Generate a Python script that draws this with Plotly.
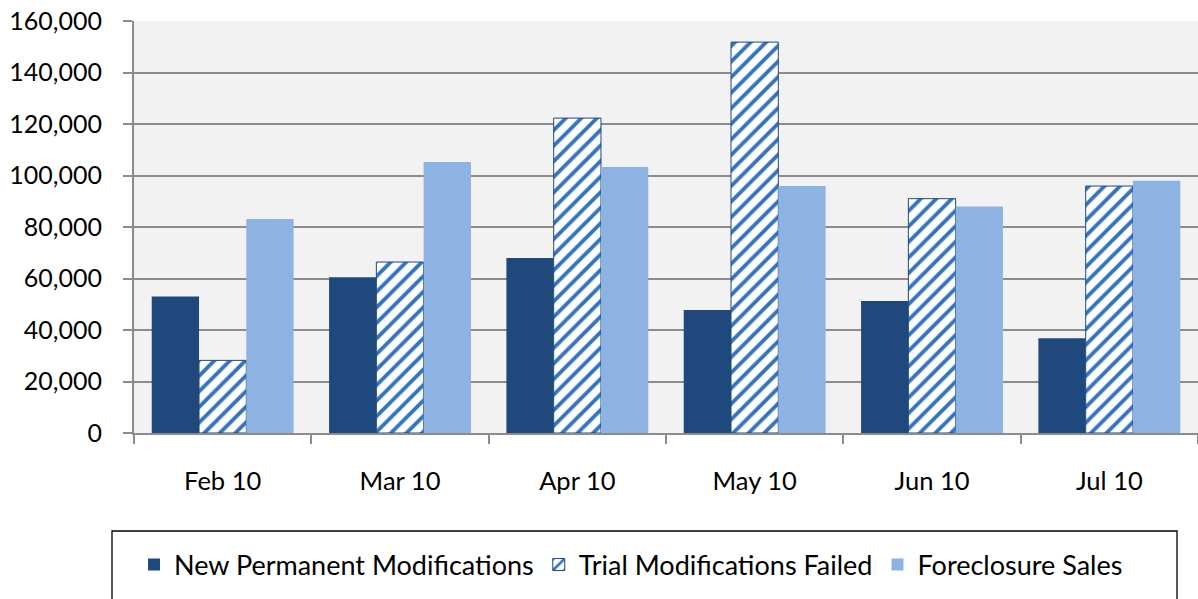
import plotly.graph_objects as go

months = ["Feb 10", "Mar 10", "Apr 10", "May 10", "Jun 10", "Jul 10"]
new_permanent = [53000, 60500, 68000, 47800, 51300, 36800]
trial_failed = [28200, 66400, 122300, 151800, 91000, 95900]
foreclosure = [83100, 105200, 103300, 95900, 88000, 98000]
y_ticks = [0, 20000, 40000, 60000, 80000, 100000, 120000, 140000, 160000]

W, H = 1198, 599
L, R, T, B = 134, 0, 21, 166
font = "Lato, 'Open Sans', sans-serif"

fig = go.Figure()
fig.add_trace(go.Bar(x=months, y=new_permanent, name="New Permanent Modifications",
                     marker=dict(color="#1F497D", line=dict(width=0))))
fig.add_trace(go.Bar(x=months, y=trial_failed, name="Trial Modifications Failed",
                     marker=dict(color="white",
                                 pattern=dict(shape="/", fgcolor="#3374C0", bgcolor="white",
                                              size=11, solidity=0.35, fillmode="replace"),
                                 line=dict(color="#1F497D", width=1))))
fig.add_trace(go.Bar(x=months, y=foreclosure, name="Foreclosure Sales",
                     marker=dict(color="#8DB3E2", line=dict(width=0))))

pw = W - L - R
ph = H - T - B
x0px = L
y0px = H - B  # pixel row of y=0
fig.add_shape(type="rect", xref="paper", yref="paper",
              x0=(112 - x0px) / pw, x1=(1177 - x0px) / pw,
              y0=(y0px - 620) / ph, y1=(y0px - 531) / ph,
              line=dict(color="black", width=1.3), fillcolor="rgba(0,0,0,0)", layer="above")

fig.update_layout(
    width=W, height=H,
    margin=dict(l=L, r=R, t=T, b=B, pad=0),
    paper_bgcolor="white", plot_bgcolor="#F2F2F2",
    barmode="group", bargap=0.2, bargroupgap=0,
    font=dict(family=font, color="black", size=25),
    showlegend=True,
    legend=dict(orientation="h", x=(631 - x0px) / pw, xanchor="center",
                y=(y0px - 565) / ph, yanchor="middle",
                font=dict(size=27, family=font), bgcolor="rgba(0,0,0,0)",
                traceorder="normal", itemwidth=30),
    xaxis=dict(type="category", showgrid=False, showline=True, linecolor="#8C8C8C", linewidth=2,
               ticks="outside", tickson="boundaries", ticklen=9, tickcolor="#8C8C8C", tickwidth=2,
               tickfont=dict(size=25.5, family=font), ticklabelstandoff=24),
    yaxis=dict(range=[0, 160000], tickvals=y_ticks, tickformat=",d",
               showgrid=True, gridcolor="#8C8C8C", gridwidth=2,
               showline=True, linecolor="#8C8C8C", linewidth=2,
               ticks="outside", ticklen=9, tickcolor="#8C8C8C", tickwidth=2,
               tickfont=dict(size=25, family=font), ticklabelstandoff=16, zeroline=False),
)

fig.write_html("out.html", config={"displayModeBar": False},
               post_script="document.body.style.margin='0';document.body.style.overflow='hidden';")
